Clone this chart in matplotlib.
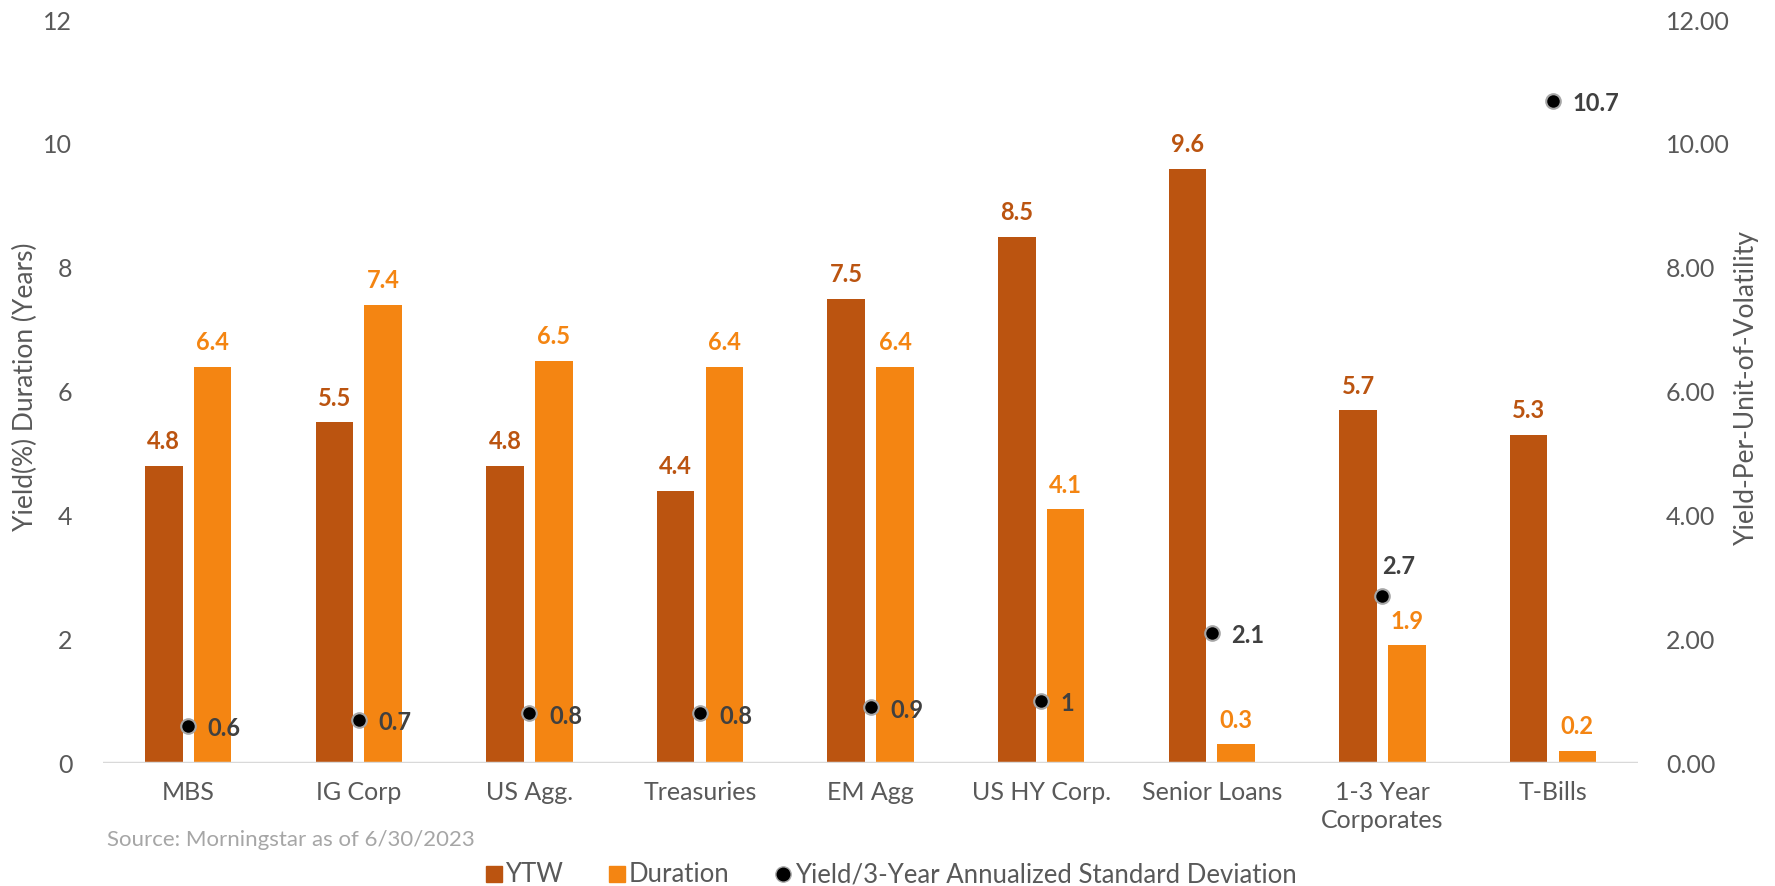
import matplotlib
matplotlib.use("Agg")
import matplotlib.pyplot as plt
from matplotlib.lines import Line2D
import numpy as np

plt.rcParams['font.family'] = ['Lato', 'DejaVu Sans']

categories = ["MBS", "IG Corp", "US Agg.", "Treasuries", "EM Agg", "US HY Corp.",
              "Senior Loans", "1-3 Year\nCorporates", "T-Bills"]
ytw = [4.8, 5.5, 4.8, 4.4, 7.5, 8.5, 9.6, 5.7, 5.3]
duration = [6.4, 7.4, 6.5, 6.4, 6.4, 4.1, 0.3, 1.9, 0.2]
yield_per_vol = [0.6, 0.7, 0.8, 0.8, 0.9, 1, 2.1, 2.7, 10.7]

c_ytw = '#BB5410'
c_dur = '#F48512'
c_txt = '#595959'
c_dot_lbl = '#404040'

fig = plt.figure(figsize=(17.75, 8.86), dpi=100)
ax = fig.add_axes([0.058, 0.1388, 0.865, 0.8386])
ax2 = ax.twinx()

x = np.arange(len(categories))
w = 0.22
off = 0.143
ax.bar(x - off, ytw, w, color=c_ytw, zorder=2)
ax.bar(x + off, duration, w, color=c_dur, zorder=2)

for xi, v in zip(x, ytw):
    ax.annotate(f"{v:.1f}", (xi - off, v), xytext=(0, 9), textcoords='offset points',
                ha='center', va='bottom', color=c_ytw, fontsize=17, fontweight='bold')
for xi, v in zip(x, duration):
    ax.annotate(f"{v:.1f}", (xi + off, v), xytext=(0, 9), textcoords='offset points',
                ha='center', va='bottom', color=c_dur, fontsize=17, fontweight='bold')

ax2.scatter(x, yield_per_vol, s=110, color='black', edgecolor='#A6A6A6', linewidth=1.5, zorder=5)
for i, (xi, v) in enumerate(zip(x, yield_per_vol)):
    if categories[i].startswith("1-3"):
        ax2.annotate(f"{v:g}", (xi, v), xytext=(0, 13), textcoords='offset points',
                     ha='left', va='bottom', color=c_dot_lbl, fontsize=17, fontweight='bold')
    else:
        ax2.annotate(f"{v:g}", (xi, v), xytext=(14, -2), textcoords='offset points',
                     ha='left', va='center', color=c_dot_lbl, fontsize=17, fontweight='bold')

ax.set_xlim(-0.5, len(categories) - 0.5)
ax.set_ylim(0, 12)
ax2.set_ylim(0, 12)
ax.set_yticks(range(0, 13, 2))
ax2.set_yticks(range(0, 13, 2))
ax2.set_yticklabels([f"{t:.2f}" for t in range(0, 13, 2)])
ax.set_xticks(x)
ax.set_xticklabels(categories, fontsize=18, color=c_txt, linespacing=1.25)

for a in (ax, ax2):
    for s in a.spines.values():
        s.set_visible(False)
    a.tick_params(length=0, labelsize=18, labelcolor=c_txt)
ax.tick_params(axis='y', pad=22)
ax2.tick_params(axis='y', pad=20)
ax.tick_params(axis='x', pad=13)
ax.axhline(0, color='#D9D9D9', linewidth=2.5, zorder=3)

ax.set_ylabel("Yield(%) Duration (Years)", fontsize=19, color=c_txt)
ax2.set_ylabel("Yield-Per-Unit-of-Volatility", fontsize=19, color=c_txt)
ax.yaxis.set_label_coords(-0.0423, 0.506)
ax2.yaxis.set_label_coords(1.062, 0.506)

fig.text(107 / 1775, 1 - 840 / 886, "Source: Morningstar as of 6/30/2023",
         fontsize=16, color='#A6A6A6', va='center', ha='left')

handles = [
    Line2D([], [], marker='s', linestyle='none', color=c_ytw, markersize=12),
    Line2D([], [], marker='s', linestyle='none', color=c_dur, markersize=12),
    Line2D([], [], marker='o', linestyle='none', color='black', markeredgecolor='#A6A6A6',
           markersize=11),
]
leg = fig.legend(handles, ["YTW", "Duration", "Yield/3-Year Annualized Standard Deviation"],
                 loc='center', bbox_to_anchor=(890 / 1775, 1 - 875 / 886), ncol=3,
                 frameon=False, fontsize=18.5, handletextpad=0.05, columnspacing=1.7,
                 handlelength=0.8)
for t in leg.get_texts():
    t.set_color(c_txt)

fig.savefig("out.png", dpi=100)
